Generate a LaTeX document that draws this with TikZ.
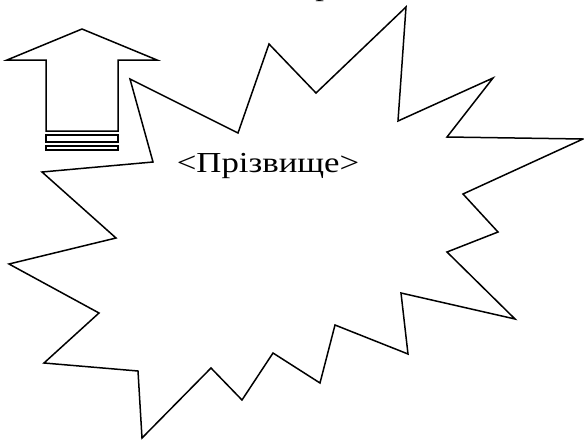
\documentclass[tikz,border=0pt]{standalone}
\usepackage{fontspec}
\setmainfont{Liberation Serif}
\newfontfamily\widetimes[FakeStretch=1.2]{Liberation Serif}
\usepackage{tikz}
\usetikzlibrary{positioning}

\begin{document}
\begin{tikzpicture}[
    x=1pt, y=-1pt,
    burstline/.style={draw=black, line width=1.5pt, line join=miter},
    nametext/.style={font=\widetimes\fontsize{29}{35}\selectfont, inner sep=0pt}
]
\useasboundingbox (0,0) rectangle (584,440);
\clip (0,0) rectangle (584,440);

% explosion outline
\draw[burstline] (130,79) -- (238,133) -- (269,44) -- (316,93) -- (406,7) -- (398,121)
  -- (493,78) -- (447,137) -- (583,139) -- (463,194) -- (498,232) -- (447,252)
  -- (515,319) -- (401,293) -- (408,354) -- (335,325) -- (320,383) -- (273,353)
  -- (242,400) -- (211,368) -- (142,438) -- (138,371) -- (44,363) -- (99,313)
  -- (9,264) -- (116,238) -- (42,172) -- (153,162) -- cycle;

% striped up arrow
\draw[burstline] (46,131) -- (46,60) -- (7,60) -- (82,29) -- (157,60) -- (118,60) -- (118,131) -- cycle;
\draw[burstline] (46,135) rectangle (118,142);
\draw[burstline] (46,146) rectangle (118,150);

\node[nametext, anchor=base] (surname) at (268,172) {<Прізвище>};
\node[nametext, anchor=south] (topword) at (324,2) {р};

\end{tikzpicture}
\end{document}
